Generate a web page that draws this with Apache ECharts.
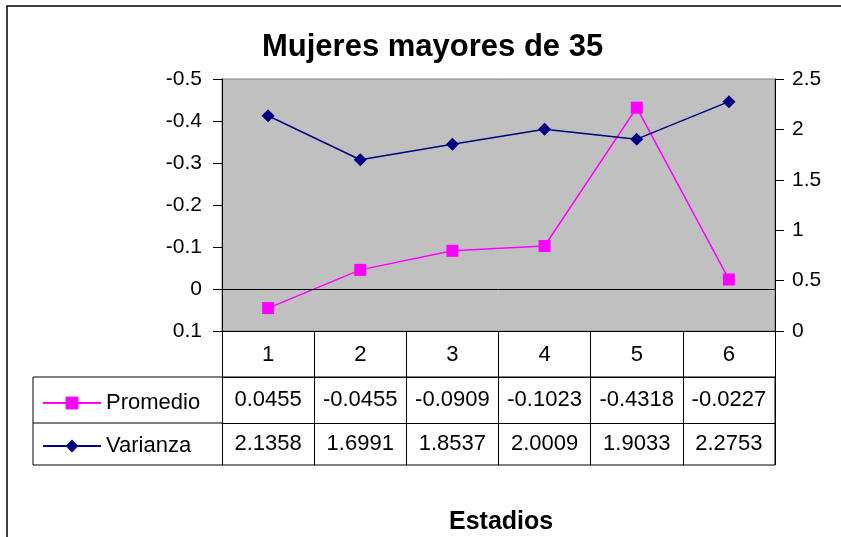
<!DOCTYPE html>
<html>
<head>
<meta charset="utf-8">
<script src="https://cdn.jsdelivr.net/npm/echarts@6/dist/echarts.min.js"></script>
<style>
  html, body { margin: 0; padding: 0; background: #fff; }
  #chart { width: 841px; height: 537px; }
</style>
</head>
<body>
<div id="chart"></div>
<script>
const categories = ['1', '2', '3', '4', '5', '6']
const promedio = [0.0455, -0.0455, -0.0909, -0.1023, -0.4318, -0.0227]
const varianza = [2.1358, 1.6991, 1.8537, 2.0009, 1.9033, 2.2753]
const leftTicks = { min: -0.5, max: 0.1, step: 0.1 }
const rightTicks = { min: 0, max: 2.5, step: 0.5 }

const font = "'Liberation Sans', Arial, sans-serif"
const pink = '#FF00FF'
const navy = '#000080'

// table rows under the plot: each one is a category axis pushed down
function tableAxis(data, offset, tickLen, margin) {
  return {
    type: 'category',
    position: 'bottom',
    offset: offset,
    data: data,
    axisLine: { show: true, onZero: false, lineStyle: { color: '#000', width: 1 } },
    axisTick: { show: true, length: tickLen, lineStyle: { color: '#000', width: 1 } },
    axisLabel: { interval: 0, margin: margin, color: '#000', fontSize: 22, fontFamily: font },
    splitLine: { show: false }
  }
}

const chart = echarts.init(document.getElementById('chart'))
const options = {
  animation: false,
  backgroundColor: '#fff',
  textStyle: { fontFamily: font },
  title: [
    {
      text: 'Mujeres mayores de 35',
      left: 257,
      top: 27,
      textStyle: { fontSize: 31, fontWeight: 'bold', color: '#000', fontFamily: font }
    },
    {
      text: 'Estadios',
      left: 444,
      top: 505,
      textStyle: { fontSize: 25, fontWeight: 'bold', color: '#000', fontFamily: font }
    }
  ],
  legend: {
    orient: 'vertical',
    left: 37,
    top: 387,
    itemWidth: 58,
    itemHeight: 16,
    itemGap: 21,
    textStyle: { fontSize: 22, color: '#000', fontFamily: font },
    data: ['Promedio', 'Varianza']
  },
  grid: {
    left: 222,
    right: 66,
    top: 79,
    bottom: 206,
    show: true,
    backgroundColor: '#C0C0C0',
    borderColor: '#808080',
    borderWidth: 1
  },
  xAxis: [
    tableAxis(categories, 0, 46, 13),
    tableAxis(promedio.map(v => v.toFixed(4)), 46, 46, 12),
    tableAxis(varianza.map(v => v.toFixed(4)), 92, 42, 10)
  ],
  yAxis: [
    {
      type: 'value',
      inverse: true,
      min: leftTicks.min,
      max: leftTicks.max,
      interval: leftTicks.step,
      axisLine: { show: true, onZero: false, lineStyle: { color: '#000' } },
      axisTick: { show: true, length: 9, lineStyle: { color: '#000' } },
      axisLabel: {
        margin: 20,
        color: '#000',
        fontSize: 21,
        fontFamily: font,
        formatter: v => (Math.abs(v) < 1e-9 ? '0' : v.toFixed(1))
      },
      splitLine: { show: false }
    },
    {
      type: 'value',
      position: 'right',
      min: rightTicks.min,
      max: rightTicks.max,
      interval: rightTicks.step,
      axisLine: { show: true, onZero: false, lineStyle: { color: '#000' } },
      axisTick: { show: true, length: 9, lineStyle: { color: '#000' } },
      axisLabel: {
        margin: 17,
        color: '#000',
        fontSize: 21,
        fontFamily: font,
        formatter: v => String(Math.round(v * 10) / 10)
      },
      splitLine: { show: false }
    }
  ],
  series: [
    {
      name: 'Promedio',
      type: 'line',
      xAxisIndex: 0,
      yAxisIndex: 0,
      data: promedio,
      symbol: 'rect',
      symbolSize: 12,
      itemStyle: { color: pink },
      lineStyle: { color: pink, width: 1.5 },
      markLine: {
        silent: true,
        symbol: 'none',
        label: { show: false },
        lineStyle: { color: '#000', type: 'solid', width: 1 },
        data: [{ yAxis: 0 }]
      }
    },
    {
      name: 'Varianza',
      type: 'line',
      xAxisIndex: 0,
      yAxisIndex: 1,
      data: varianza,
      symbol: 'diamond',
      symbolSize: 13,
      itemStyle: { color: navy },
      lineStyle: { color: navy, width: 1.5 }
    }
  ],
  graphic: [
    {
      // outer chart frame (right and bottom edges fall off the page)
      type: 'rect',
      shape: { x: 7, y: 6, width: 900, height: 600 },
      style: { fill: 'none', stroke: '#000', lineWidth: 1.5 },
      silent: true
    },
    {
      // legend column + outline of the data table
      type: 'rect',
      shape: { x: 33, y: 377, width: 742, height: 88 },
      style: { fill: 'none', stroke: '#000', lineWidth: 1 },
      silent: true
    },
    {
      type: 'line',
      shape: { x1: 33, y1: 423, x2: 222, y2: 423 },
      style: { stroke: '#000', lineWidth: 1 },
      silent: true
    }
  ]
}
chart.setOption(options)
</script>
</body>
</html>
